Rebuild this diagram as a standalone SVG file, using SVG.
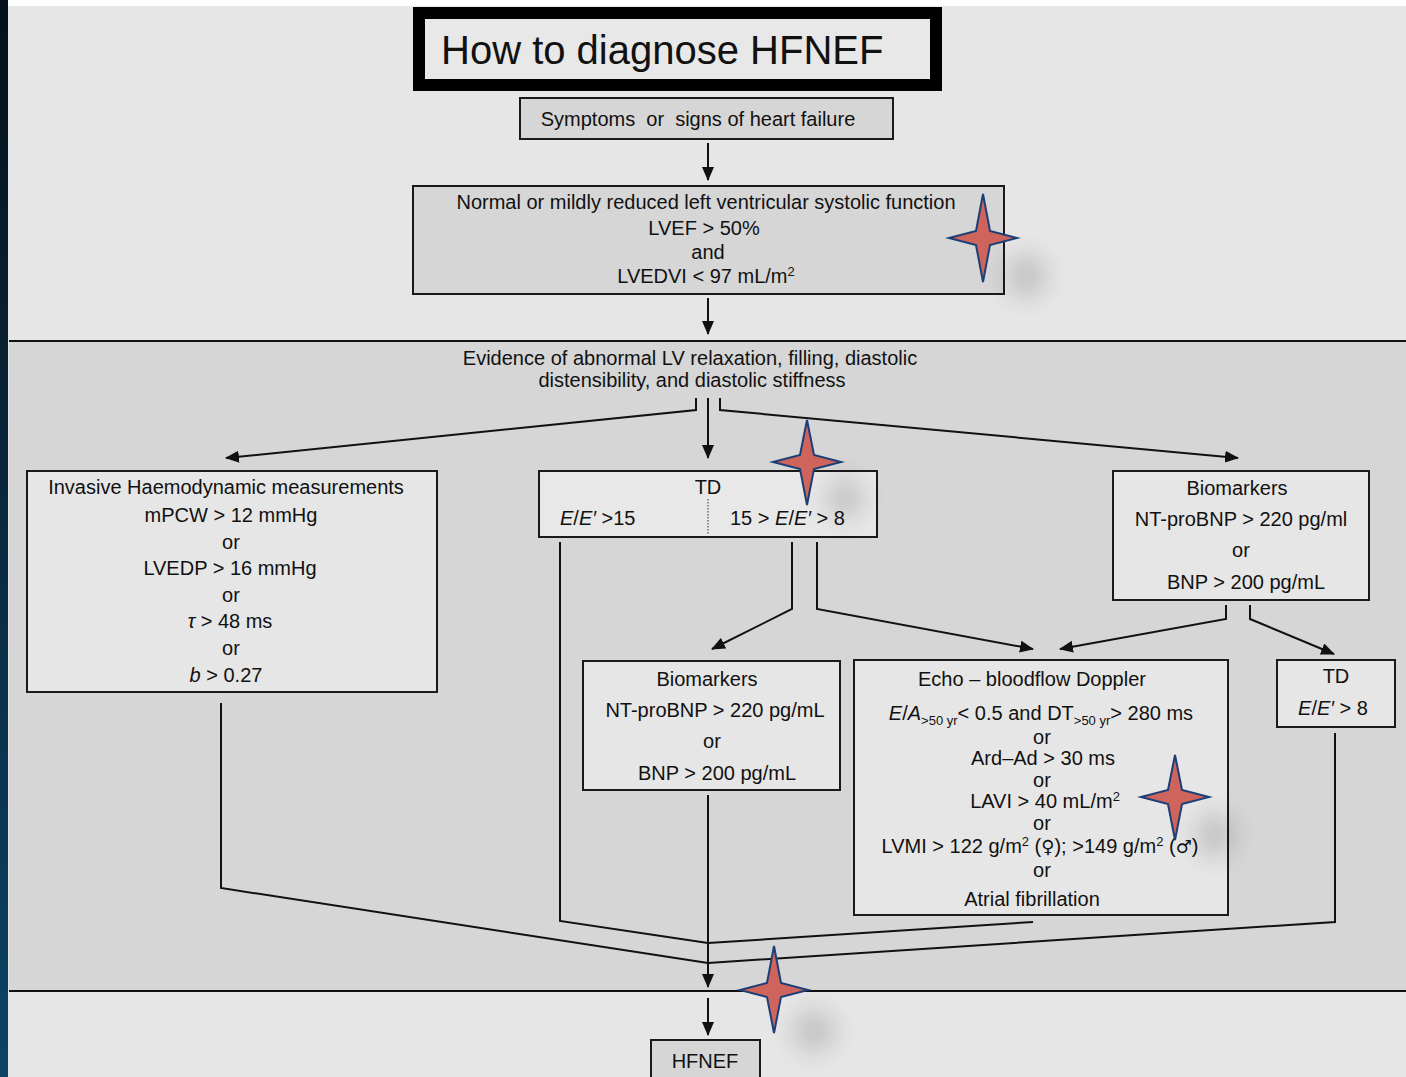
<svg xmlns="http://www.w3.org/2000/svg" width="1406" height="1077" viewBox="0 0 1406 1077">
<defs>
<linearGradient id="edge" x1="0" y1="0" x2="0" y2="1">
<stop offset="0" stop-color="#05101a"/>
<stop offset="0.5" stop-color="#0a2a40"/>
<stop offset="1" stop-color="#0b4466"/>
</linearGradient>
<filter id="blur" x="-100%" y="-100%" width="300%" height="300%">
<feGaussianBlur stdDeviation="13"/>
</filter>
<marker id="arr" markerUnits="userSpaceOnUse" markerWidth="14" markerHeight="12" refX="13" refY="6" orient="auto" viewBox="0 0 14 12">
<path d="M0,0 L14,6 L0,12 z" fill="#111"/>
</marker>
</defs>
<style>
text{font-family:"Liberation Sans","DejaVu Sans",Arial,sans-serif;font-size:20px;fill:#111}
.c{text-anchor:middle}
.i{font-style:italic}
.s{font-size:13px}
.g{font-family:"DejaVu Sans",sans-serif;font-size:18px}
.box{stroke:#1a1a1a;stroke-width:2}
.dk{fill:#d6d6d6}
.lt{fill:#e6e6e6}
.con path{fill:none;stroke:#111;stroke-width:2}
.star{fill:#cf645d;stroke:#1c3f78;stroke-width:2;stroke-linejoin:miter}
.sh{fill:#000;opacity:0.16;filter:url(#blur)}
</style>
<rect x="0" y="0" width="1406" height="1077" fill="#e6e6e6"/>
<rect x="8" y="0" width="1398" height="6" fill="#ffffff"/>
<rect x="0" y="0" width="8" height="1077" fill="url(#edge)"/>
<g id="band">
<rect x="9" y="341" width="1397" height="650" fill="#d6d6d6"/>
<path d="M9,341 H1406 M9,991 H1406" stroke="#111" stroke-width="2"/>
</g>

<g id="title">
<rect x="419" y="13" width="517" height="72" fill="#e8e8e8" stroke="#000" stroke-width="12"/>
<text x="441" y="64" style="font-size:40px">How to diagnose HFNEF</text>
</g>

<g id="symptoms">
<rect class="box dk" x="520" y="98" width="373" height="41"/>
<text class="c" x="698" y="126">Symptoms&#160; or&#160; signs of heart failure</text>
</g>

<g id="lvfunction">
<rect class="box dk" x="413" y="186" width="591" height="108"/>
<text class="c" x="706" y="209">Normal or mildly reduced left ventricular systolic function</text>
<text class="c" x="704" y="235">LVEF &gt; 50%</text>
<text class="c" x="708" y="259">and</text>
<text class="c" x="706" y="283">LVEDVI &lt; 97 mL/m<tspan class="s" dy="-7">2</tspan></text>
</g>

<g id="evidence">
<text class="c" x="690" y="365">Evidence of abnormal LV relaxation, filling, diastolic</text>
<text class="c" x="692" y="387">distensibility, and diastolic stiffness</text>
</g>

<g id="invasive">
<rect class="box lt" x="27" y="471" width="410" height="221"/>
<text class="c" x="226" y="494">Invasive Haemodynamic measurements</text>
<text class="c" x="231" y="522">mPCW &gt; 12 mmHg</text>
<text class="c" x="231" y="549">or</text>
<text class="c" x="230" y="575">LVEDP &gt; 16 mmHg</text>
<text class="c" x="231" y="602">or</text>
<text class="c" x="230" y="628"><tspan class="i">τ</tspan> &gt; 48 ms</text>
<text class="c" x="231" y="655">or</text>
<text class="c" x="226" y="682"><tspan class="i">b</tspan> &gt; 0.27</text>
</g>

<g id="td">
<rect class="box" fill="#e8e8e8" x="539" y="471" width="338" height="66"/>
<text class="c" x="708" y="494">TD</text>
<path d="M708,499 V534" stroke="#333" stroke-width="1" stroke-dasharray="1.5 1.5"/>
<text x="560" y="525"><tspan class="i">E</tspan>/<tspan class="i">E′</tspan> &gt;15</text>
<text x="730" y="525">15 &gt; <tspan class="i">E</tspan>/<tspan class="i">E′</tspan> &gt; 8</text>
</g>

<g id="biomarkers-right">
<rect class="box lt" x="1113" y="471" width="256" height="129"/>
<text class="c" x="1237" y="495">Biomarkers</text>
<text class="c" x="1241" y="526">NT-proBNP &gt; 220 pg/ml</text>
<text class="c" x="1241" y="557">or</text>
<text class="c" x="1246" y="589">BNP &gt; 200 pg/mL</text>
</g>

<g id="biomarkers-mid">
<rect class="box lt" x="583" y="661" width="257" height="129"/>
<text class="c" x="707" y="686">Biomarkers</text>
<text class="c" x="715" y="717">NT-proBNP &gt; 220 pg/mL</text>
<text class="c" x="712" y="748">or</text>
<text class="c" x="717" y="780">BNP &gt; 200 pg/mL</text>
</g>

<g id="echo">
<rect class="box lt" x="854" y="660" width="374" height="255"/>
<text class="c" x="1032" y="686">Echo – bloodflow Doppler</text>
<text class="c" x="1041" y="720"><tspan class="i">E</tspan>/<tspan class="i">A</tspan><tspan class="s" dy="5">&gt;50 yr</tspan><tspan dy="-5">&lt; 0.5 and DT</tspan><tspan class="s" dy="5">&gt;50 yr</tspan><tspan dy="-5">&gt; 280 ms</tspan></text>
<text class="c" x="1042" y="744">or</text>
<text class="c" x="1043" y="765">Ard–Ad &gt; 30 ms</text>
<text class="c" x="1042" y="787">or</text>
<text class="c" x="1045" y="808">LAVI &gt; 40 mL/m<tspan class="s" dy="-7">2</tspan></text>
<text class="c" x="1042" y="830">or</text>
<text class="c" x="1040" y="853">LVMI &gt; 122 g/m<tspan class="s" dy="-7">2</tspan><tspan dy="7"> (</tspan><tspan class="g">♀</tspan>); &gt;149 g/m<tspan class="s" dy="-7">2</tspan><tspan dy="7"> (</tspan><tspan class="g">♂</tspan>)</text>
<text class="c" x="1042" y="877">or</text>
<text class="c" x="1032" y="906">Atrial fibrillation</text>
</g>

<g id="td-small">
<rect class="box lt" x="1277" y="660" width="118" height="67"/>
<text class="c" x="1336" y="683">TD</text>
<text class="c" x="1333" y="715"><tspan class="i">E</tspan>/<tspan class="i">E′</tspan> &gt; 8</text>
</g>

<g id="hfnef">
<rect class="box dk" x="651" y="1040" width="109" height="45"/>
<text class="c" x="705" y="1068">HFNEF</text>
</g>

<g id="connectors" class="con">
<path d="M708,143 V180" marker-end="url(#arr)"/>
<path d="M708,298 V334" marker-end="url(#arr)"/>
<path d="M696,398 V410 L226,458" marker-end="url(#arr)"/>
<path d="M708,398 V458" marker-end="url(#arr)"/>
<path d="M720,398 V410 L1238,458" marker-end="url(#arr)"/>
<path d="M792,542 V609 L712,649" marker-end="url(#arr)"/>
<path d="M817,542 V609 L1033,649" marker-end="url(#arr)"/>
<path d="M1226,605 V619 L1060,649" marker-end="url(#arr)"/>
<path d="M1250,605 V619 L1334,654" marker-end="url(#arr)"/>
<path d="M560,542 V921 L708,943"/>
<path d="M1033,922 L708,943"/>
<path d="M221,703 V888 L708,963"/>
<path d="M1335,733 V922 L708,963"/>
<path d="M708,795 V987" marker-end="url(#arr)"/>
<path d="M708,998 V1035" marker-end="url(#arr)"/>
</g>

<g id="stars">
<ellipse class="sh" cx="1026" cy="276" rx="20" ry="22"/>
<ellipse class="sh" cx="845" cy="498" rx="19" ry="21"/>
<ellipse class="sh" cx="1215" cy="835" rx="19" ry="22"/>
<ellipse class="sh" cx="814" cy="1031" rx="21" ry="21"/>
<path class="star" d="M983,194 L990,231 L1017,238 L990,245 L983,282 L976,245 L949,238 L976,231 Z"/>
<path class="star" d="M807,420 L814,455 L841,462 L814,469 L807,505 L800,469 L773,462 L800,455 Z"/>
<path class="star" d="M1175,755 L1182,790 L1209,797 L1182,804 L1175,840 L1168,804 L1141,797 L1168,790 Z"/>
<path class="star" d="M774,946 L781,983 L808,990 L781,997 L774,1033 L767,997 L740,990 L767,983 Z"/>
</g>
</svg>
